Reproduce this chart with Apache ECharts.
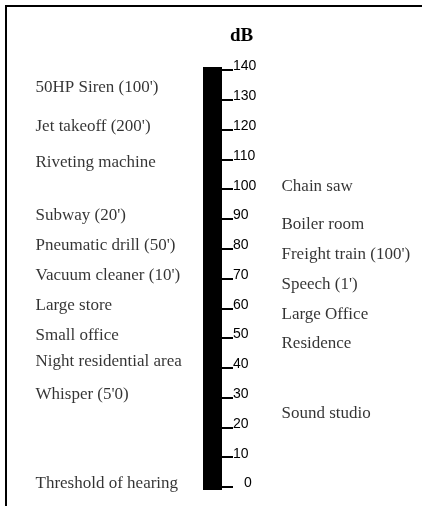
<!DOCTYPE html>
<html>
<head>
<meta charset="utf-8">
<script src="https://cdn.jsdelivr.net/npm/echarts@6/dist/echarts.min.js"></script>
<style>html,body{margin:0;padding:0;background:#fff}#c{width:422px;height:506px}</style>
</head>
<body>
<div id="c"></div>
<script>
const axisTitle = 'dB';
const scaleMin = 0;
const scaleMax = 140;
const scaleStep = 10;
const scaleCategory = ['dB'];
const scaleBar = [140];

const leftSources = ["50HP Siren (100')", "Jet takeoff (200')", 'Riveting machine', "Subway (20')",
  "Pneumatic drill (50')", "Vacuum cleaner (10')", 'Large store', 'Small office',
  'Night residential area', "Whisper (5'0)", 'Threshold of hearing'];
const leftLevels = [134, 121, 109, 91, 81, 71, 61, 51, 42, 31, 1];

const rightSources = ['Chain saw', 'Boiler room', "Freight train (100')", "Speech (1')",
  'Large Office', 'Residence', 'Sound studio'];
const rightLevels = [101, 88, 78, 68, 58, 48, 24.5];

const chart = echarts.init(document.getElementById('c'));
const serif = 'Liberation Serif, Times New Roman, serif';
const sans = 'Liberation Sans, Arial, sans-serif';

function labelSeries(names, levels, dx) {
  return {
    type: 'scatter',
    symbolSize: 0,
    silent: true,
    data: names.map((n, i) => ({ name: n, value: [0, levels[i]] })),
    label: {
      show: true,
      position: 'inside',
      offset: [dx, 0],
      align: 'left',
      verticalAlign: 'middle',
      formatter: p => p.name,
      fontFamily: serif,
      fontSize: 17,
      color: '#000'
    },
    clip: false
  };
}

function scaleBarSeries(dy, gap) {
  return {
    type: 'bar',
    data: scaleBar,
    barWidth: '100%',
    barGap: gap,
    silent: true,
    clip: false,
    itemStyle: { color: '#000', shadowColor: '#000', shadowBlur: 0, shadowOffsetY: dy },
    z: 3
  };
}

chart.setOption({
  animation: false,
  backgroundColor: '#fff',
  title: {
    text: axisTitle,
    left: 230,
    top: 27,
    padding: 0,
    textStyle: { fontFamily: serif, fontSize: 19, fontWeight: 'bold', color: '#000' }
  },
  graphic: [
    { type: 'line', shape: { x1: 6, y1: 6, x2: 422, y2: 6 }, style: { stroke: '#000', lineWidth: 2 } },
    { type: 'line', shape: { x1: 6, y1: 5, x2: 6, y2: 506 }, style: { stroke: '#000', lineWidth: 2 } }
  ],
  grid: { left: 203, right: 200, top: 70, bottom: 19 },
  xAxis: {
    type: 'category',
    data: scaleCategory,
    show: false
  },
  yAxis: {
    type: 'value',
    position: 'right',
    min: scaleMin,
    max: scaleMax,
    interval: scaleStep,
    splitLine: { show: false },
    axisLine: { show: false },
    axisTick: { show: true, length: 11, lineStyle: { color: '#000', width: 2 } },
    axisLabel: {
      margin: 11,
      align: 'left',
      verticalAlign: 'bottom',
      lineHeight: 7,
      fontFamily: sans,
      fontSize: 14,
      color: '#000',
      formatter: v => (v === 0 ? '\u2002 0' : String(v))
    }
  },
  series: [
    scaleBarSeries(-3, '-100%'),
    scaleBarSeries(3, '-100%'),
    labelSeries(leftSources, leftLevels, -177),
    labelSeries(rightSources, rightLevels, 69)
  ]
});
</script>
</body>
</html>
